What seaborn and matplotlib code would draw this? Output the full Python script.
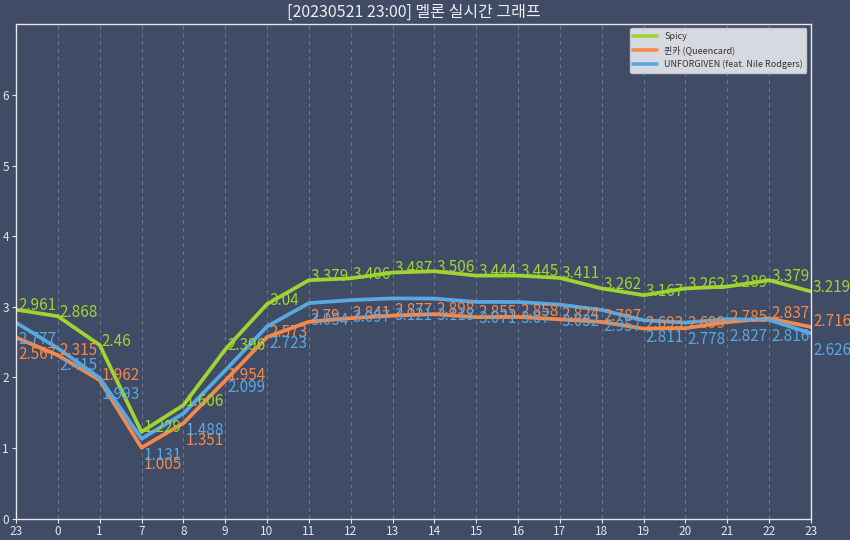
import numpy as np
import pandas as pd
import matplotlib
matplotlib.use("Agg")
import matplotlib.pyplot as plt
import seaborn as sns
from matplotlib.transforms import offset_copy

hours = ["23", "0", "1", "7", "8", "9", "10", "11", "12", "13", "14", "15",
         "16", "17", "18", "19", "20", "21", "22", "23"]
spicy = [2.961, 2.868, 2.46, 1.229, 1.606, 2.396, 3.04, 3.379, 3.406, 3.487,
         3.506, 3.444, 3.445, 3.411, 3.262, 3.167, 3.262, 3.289, 3.379, 3.219]
queencard = [2.567, 2.315, 1.962, 1.005, 1.351, 1.954, 2.573, 2.79, 2.841, 2.877,
             2.898, 2.855, 2.858, 2.824, 2.787, 2.693, 2.699, 2.785, 2.837, 2.716]
unforgiven = [2.777, 2.415, 1.993, 1.131, 1.488, 2.099, 2.723, 3.054, 3.097, 3.121,
              3.118, 3.071, 3.07, 3.032, 2.957, 2.811, 2.778, 2.827, 2.816, 2.626]
songs = ["Spicy", "퀸카 (Queencard)", "UNFORGIVEN (feat. Nile Rodgers)"]
title = "[20230521 23:00] 멜론 실시간 그래프"

colors = ["#9fd431", "#f5894c", "#58a9e2"]
bg = "#404b66"
queencard_below = {0, 3, 4}

sns.set_theme(style="dark")
plt.rcParams["font.family"] = ["Noto Sans CJK KR", "DejaVu Sans"]

rows = []
for name, vals in zip(songs, [spicy, queencard, unforgiven]):
    for i, v in enumerate(vals):
        rows.append({"idx": i, "value": v, "song": name})
df = pd.DataFrame(rows)

fig = plt.figure(figsize=(8.5, 5.4), dpi=100, facecolor=bg)
ax = fig.add_axes([0.0188, 0.0398, 0.9353, 0.9158])
ax.set_facecolor(bg)

sns.lineplot(data=df, x="idx", y="value", hue="song", palette=colors,
             hue_order=songs, linewidth=2.7, ax=ax, legend=True)

for k, (name, vals) in enumerate(zip(songs, [spicy, queencard, unforgiven])):
    for i, v in enumerate(vals):
        if k == 0:
            dy = 4
        elif k == 1:
            dy = -17 if i in queencard_below else 5
        else:
            dy = -17
        tr = offset_copy(ax.transData, fig=fig, x=2, y=dy, units="dots")
        ax.text(i, v, f"{v:g}", color=colors[k], fontsize=11, ha="left",
                va="center", transform=tr, clip_on=False)

ax.set_xlim(0, len(hours) - 1)
ax.set_ylim(0, 2 * max(spicy))
ax.set_xticks(range(len(hours)))
ax.set_xticklabels(hours)
ax.set_yticks(range(0, 7))
ax.set_xlabel("")
ax.set_ylabel("")
ax.tick_params(colors="#e6e6e6", labelsize=8.5, length=3, width=0.8,
               left=True, bottom=True, pad=2)
for s in ax.spines.values():
    s.set_visible(True)
    s.set_color("#e8e8e8")
    s.set_linewidth(1.0)
ax.grid(False)
ax.xaxis.grid(True, linestyle=(0, (4, 4)), color="#7a849c", linewidth=0.7, alpha=0.8)

leg = ax.legend(loc="upper right", fontsize=6.5, frameon=True, facecolor="#dfe2e8",
                edgecolor="#c8ccd4", framealpha=0.95, handlelength=2.6,
                borderaxespad=0.5, labelspacing=0.5)
for t in leg.get_texts():
    t.set_color("#333333")
for line in leg.get_lines():
    line.set_linewidth(2.6)

ax.set_title(title, color="#eeeeee", fontsize=11.5, pad=5)

fig.savefig("out.png", dpi=100, facecolor=bg)
